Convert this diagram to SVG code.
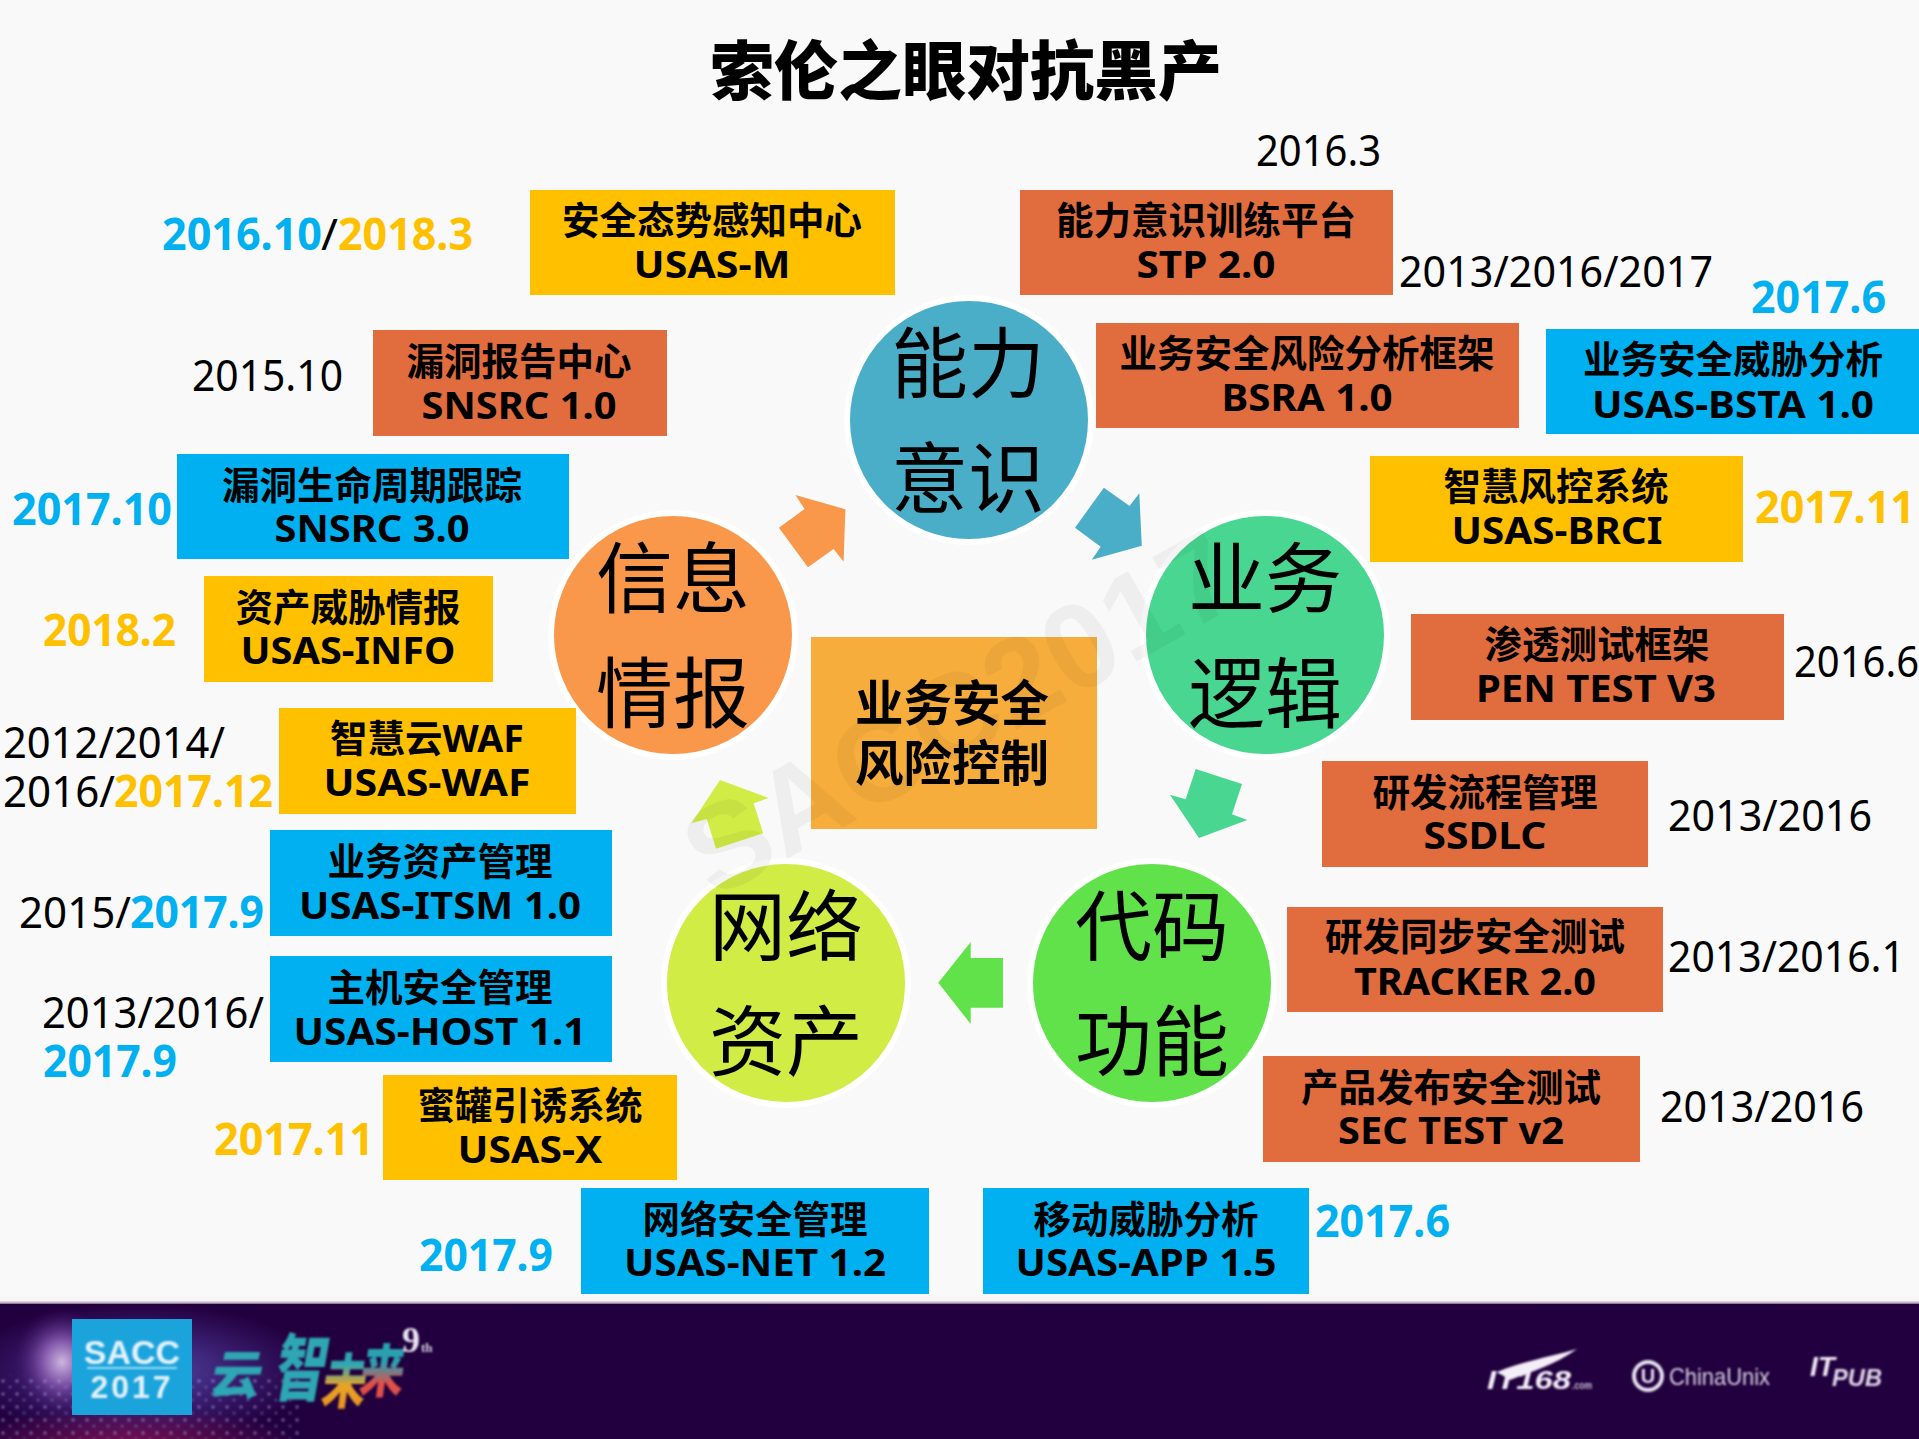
<svg xmlns="http://www.w3.org/2000/svg" width="1919" height="1439" viewBox="0 0 1919 1439">
<style>
text{font-family:"Noto Sans","Noto Sans CJK SC",sans-serif;fill:#000}
.b{font-size:37.5px;font-weight:700;text-anchor:middle}
.c{font-size:77px;text-anchor:middle;font-family:"Noto Sans CJK SC",sans-serif}
.d{font-size:44px}
.db{font-size:44px;font-weight:700}
.cb{fill:#00b0f0}
.cy{fill:#ffc000}
.y{fill:#ffc000}
.r{fill:#e16c3e}
.u{fill:#00b0f0}
.ring{stroke:#fff;stroke-width:6}
.ft{font-family:"Liberation Sans",sans-serif;font-weight:700}
.br{font-family:"Noto Sans CJK SC",sans-serif;font-weight:900}
</style>
<defs>
<radialGradient id="glow" cx="0.5" cy="0.5" r="0.5"><stop offset="0" stop-color="#cdb4e0"/><stop offset="0.4" stop-color="#7f54a8"/><stop offset="1" stop-color="#3a0a5c" stop-opacity="0"/></radialGradient>
<radialGradient id="speck" cx="0.5" cy="0.5" r="0.5"><stop offset="0" stop-color="#5c5cc0" stop-opacity="0.85"/><stop offset="1" stop-color="#5c3cb0" stop-opacity="0"/></radialGradient>
<radialGradient id="red" cx="0.5" cy="0.5" r="0.5"><stop offset="0" stop-color="#a01a5a" stop-opacity="0.7"/><stop offset="1" stop-color="#a01a5a" stop-opacity="0"/></radialGradient>
<linearGradient id="edge" x1="0" y1="0" x2="0" y2="1"><stop offset="0" stop-color="#f9f9f9"/><stop offset="0.55" stop-color="#f8f2f8"/><stop offset="0.8" stop-color="#b0a8b4"/><stop offset="1" stop-color="#2a0a44"/></linearGradient>
<linearGradient id="wei" x1="0" y1="0" x2="0" y2="1"><stop offset="0.35" stop-color="#2ea6b4"/><stop offset="0.6" stop-color="#e8a428"/><stop offset="1" stop-color="#e88a20"/></linearGradient>
<linearGradient id="lai" x1="0" y1="0" x2="0" y2="1"><stop offset="0.45" stop-color="#2aa0b0"/><stop offset="0.7" stop-color="#e0504a"/><stop offset="1" stop-color="#e05048"/></linearGradient>
<pattern id="dots" width="14" height="13" patternUnits="userSpaceOnUse"><circle cx="3" cy="3" r="1.8" fill="#a8a8ec" opacity=".5"/><circle cx="10" cy="9" r="1.5" fill="#8890e0" opacity=".45"/></pattern>
<filter id="bl2" x="-10%" y="-10%" width="120%" height="120%"><feGaussianBlur stdDeviation="0.9"/></filter>
<clipPath id="fc"><rect x="0" y="1304" width="1919" height="135"/></clipPath>
</defs>
<rect width="1919" height="1439" fill="#f9f9f9"/>
<text x="966" y="94" style="font-size:64px;font-weight:900;text-anchor:middle;font-family:'Noto Sans CJK SC',sans-serif">索伦之眼对抗黑产</text>

<g id="connectors">
<polygon fill="#f9984a" points="795.4,495 845.4,509.3 843.6,561.7 833.6,549 807.9,567.3 778.9,527.7 804.6,509"/>
<polygon fill="#4baec8" points="1103.9,487.7 1129.6,506 1139.3,493.3 1141.8,545.7 1091.8,559.7 1100.7,546.7 1075,527.7"/>
<polygon fill="#48d690" points="1195.7,769 1242,784 1232,814.3 1247.3,820 1199,838 1170,794.7 1185.7,799.3"/>
<polygon fill="#62e24a" points="1003,958 1003,1007.7 970.7,1007.7 970.7,1024 938.3,982.7 970.7,942 970.7,958"/>
<polygon fill="#d0ec45" points="720,780 768.6,798 753.6,803.3 763.2,833.3 716,848.7 706.8,819 691.4,823.3"/>
</g>

<g id="node-ability"><circle class="ring" cx="969" cy="420" r="122" fill="#4baec8"/><text class="c" x="968" y="392">能力</text><text class="c" x="968" y="507">意识</text></g>
<g id="node-logic"><circle class="ring" cx="1265" cy="635" r="122" fill="#48d690"/><text class="c" x="1265" y="607">业务</text><text class="c" x="1265" y="722">逻辑</text></g>
<g id="node-code"><circle class="ring" cx="1152" cy="983" r="122" fill="#62e24a"/><text class="c" x="1152" y="955">代码</text><text class="c" x="1152" y="1070">功能</text></g>
<g id="node-network"><circle class="ring" cx="786" cy="983" r="122" fill="#d0ec45"/><text class="c" x="786" y="955">网络</text><text class="c" x="786" y="1070">资产</text></g>
<g id="node-intel"><circle class="ring" cx="673" cy="635" r="122" fill="#f9984a"/><text class="c" x="673" y="607">信息</text><text class="c" x="673" y="722">情报</text></g>
<g id="node-center"><rect x="811" y="637" width="286" height="192" fill="#f6ad3b"/><text x="952" y="721" style="font-size:48.5px;font-weight:700;text-anchor:middle">业务安全</text><text x="952" y="781" style="font-size:48.5px;font-weight:700;text-anchor:middle">风险控制</text></g>

<g id="box-m"><rect class="y" x="530" y="190" width="365" height="105"/><text class="b" x="712" y="234">安全态势感知中心</text><text class="b" x="712" y="278" textLength="157" lengthAdjust="spacingAndGlyphs">USAS-M</text></g>
<g id="box-stp"><rect class="r" x="1020" y="190" width="373" height="105"/><text class="b" x="1206" y="234">能力意识训练平台</text><text class="b" x="1206" y="278" textLength="139" lengthAdjust="spacingAndGlyphs">STP 2.0</text></g>
<g id="box-bsra"><rect class="r" x="1096" y="323" width="423" height="105"/><text class="b" x="1307" y="367">业务安全风险分析框架</text><text class="b" x="1307" y="411" textLength="171" lengthAdjust="spacingAndGlyphs">BSRA 1.0</text></g>
<g id="box-bsta"><rect class="u" x="1546" y="329" width="373" height="105"/><text class="b" x="1733" y="373">业务安全威胁分析</text><text class="b" x="1733" y="418" textLength="282" lengthAdjust="spacingAndGlyphs">USAS-BSTA 1.0</text></g>
<g id="box-brci"><rect class="y" x="1370" y="456" width="373" height="106"/><text class="b" x="1556" y="500">智慧风控系统</text><text class="b" x="1557" y="544" textLength="211" lengthAdjust="spacingAndGlyphs">USAS-BRCI</text></g>
<g id="box-pen"><rect class="r" x="1411" y="614" width="373" height="106"/><text class="b" x="1597" y="658">渗透测试框架</text><text class="b" x="1596" y="702" textLength="240" lengthAdjust="spacingAndGlyphs">PEN TEST V3</text></g>
<g id="box-ssdlc"><rect class="r" x="1322" y="761" width="326" height="106"/><text class="b" x="1485" y="806">研发流程管理</text><text class="b" x="1485" y="849" textLength="123" lengthAdjust="spacingAndGlyphs">SSDLC</text></g>
<g id="box-tracker"><rect class="r" x="1287" y="907" width="376" height="105"/><text class="b" x="1475" y="950">研发同步安全测试</text><text class="b" x="1475" y="995" textLength="242" lengthAdjust="spacingAndGlyphs">TRACKER 2.0</text></g>
<g id="box-sec"><rect class="r" x="1263" y="1056" width="377" height="106"/><text class="b" x="1451" y="1101">产品发布安全测试</text><text class="b" x="1451" y="1144" textLength="226" lengthAdjust="spacingAndGlyphs">SEC TEST v2</text></g>
<g id="box-app"><rect class="u" x="983" y="1188" width="326" height="106"/><text class="b" x="1146" y="1233">移动威胁分析</text><text class="b" x="1146" y="1276" textLength="261" lengthAdjust="spacingAndGlyphs">USAS-APP 1.5</text></g>
<g id="box-net"><rect class="u" x="581" y="1188" width="348" height="106"/><text class="b" x="755" y="1233">网络安全管理</text><text class="b" x="755" y="1276" textLength="262" lengthAdjust="spacingAndGlyphs">USAS-NET 1.2</text></g>
<g id="box-x"><rect class="y" x="383" y="1075" width="294" height="105"/><text class="b" x="530" y="1119">蜜罐引诱系统</text><text class="b" x="530" y="1163" textLength="145" lengthAdjust="spacingAndGlyphs">USAS-X</text></g>
<g id="box-host"><rect class="u" x="270" y="956" width="342" height="106"/><text class="b" x="440" y="1001">主机安全管理</text><text class="b" x="440" y="1045" textLength="293" lengthAdjust="spacingAndGlyphs">USAS-HOST 1.1</text></g>
<g id="box-itsm"><rect class="u" x="270" y="830" width="342" height="106"/><text class="b" x="440" y="875">业务资产管理</text><text class="b" x="440" y="919" textLength="282" lengthAdjust="spacingAndGlyphs">USAS-ITSM 1.0</text></g>
<g id="box-waf"><rect class="y" x="279" y="708" width="297" height="106"/><text class="b" x="427" y="752">智慧云WAF</text><text class="b" x="427" y="796" textLength="207" lengthAdjust="spacingAndGlyphs">USAS-WAF</text></g>
<g id="box-info"><rect class="y" x="204" y="576" width="289" height="106"/><text class="b" x="348" y="621">资产威胁情报</text><text class="b" x="348" y="664" textLength="215" lengthAdjust="spacingAndGlyphs">USAS-INFO</text></g>
<g id="box-snsrc3"><rect class="u" x="177" y="454" width="392" height="105"/><text class="b" x="372" y="499">漏洞生命周期跟踪</text><text class="b" x="372" y="542" textLength="195" lengthAdjust="spacingAndGlyphs">SNSRC 3.0</text></g>
<g id="box-snsrc1"><rect class="r" x="373" y="330" width="294" height="106"/><text class="b" x="519" y="375">漏洞报告中心</text><text class="b" x="519" y="419" textLength="195" lengthAdjust="spacingAndGlyphs">SNSRC 1.0</text></g>

<g id="dates">
<text class="d" x="1256" y="166" textLength="125" lengthAdjust="spacingAndGlyphs">2016.3</text>
<text class="d" x="1399" y="287" textLength="314" lengthAdjust="spacingAndGlyphs">2013/2016/2017</text>
<text class="db cb" x="1751" y="313" textLength="135" lengthAdjust="spacingAndGlyphs">2017.6</text>
<text class="db cy" x="1755" y="523" textLength="160" lengthAdjust="spacingAndGlyphs">2017.11</text>
<text class="d" x="1794" y="677" textLength="125" lengthAdjust="spacingAndGlyphs">2016.6</text>
<text class="d" x="1668" y="831" textLength="204" lengthAdjust="spacingAndGlyphs">2013/2016</text>
<text class="d" x="1668" y="972" textLength="237" lengthAdjust="spacingAndGlyphs">2013/2016.1</text>
<text class="d" x="1660" y="1122" textLength="204" lengthAdjust="spacingAndGlyphs">2013/2016</text>
<text class="db cb" x="1315" y="1237" textLength="135" lengthAdjust="spacingAndGlyphs">2017.6</text>
<text class="db cb" x="419" y="1271" textLength="134" lengthAdjust="spacingAndGlyphs">2017.9</text>
<text class="db cy" x="214" y="1155" textLength="160" lengthAdjust="spacingAndGlyphs">2017.11</text>
<text class="d" x="42" y="1028" textLength="222" lengthAdjust="spacingAndGlyphs">2013/2016/</text>
<text class="db cb" x="43" y="1077" textLength="134" lengthAdjust="spacingAndGlyphs">2017.9</text>
<text class="d" x="19" y="928" textLength="112" lengthAdjust="spacingAndGlyphs">2015/</text><text class="db cb" x="130" y="928" textLength="134" lengthAdjust="spacingAndGlyphs">2017.9</text>
<text class="d" x="3" y="758" textLength="222" lengthAdjust="spacingAndGlyphs">2012/2014/</text>
<text class="d" x="3" y="807" textLength="112" lengthAdjust="spacingAndGlyphs">2016/</text><text class="db cy" x="114" y="807" textLength="159" lengthAdjust="spacingAndGlyphs">2017.12</text>
<text class="db cy" x="43" y="646" textLength="133" lengthAdjust="spacingAndGlyphs">2018.2</text>
<text class="db cb" x="12" y="525" textLength="160" lengthAdjust="spacingAndGlyphs">2017.10</text>
<text class="d" x="192" y="391" textLength="151" lengthAdjust="spacingAndGlyphs">2015.10</text>
<text class="db cb" x="162" y="250" textLength="160" lengthAdjust="spacingAndGlyphs">2016.10</text><text class="d" x="321" y="250" textLength="17" lengthAdjust="spacingAndGlyphs">/</text><text class="db cy" x="338" y="250" textLength="135" lengthAdjust="spacingAndGlyphs">2018.3</text>
</g>

<text transform="translate(714 900) rotate(-29.4)" x="0" y="0" style="font-family:'Liberation Sans',sans-serif;font-size:121px;font-weight:700;fill:#000;fill-opacity:.045">SACC2017</text>

<g id="footer">
<rect x="0" y="1295" width="1919" height="10" fill="url(#edge)"/>
<g clip-path="url(#fc)">
<rect x="0" y="1303" width="1919" height="136" fill="#22003f"/>
<rect x="-40" y="1303" width="360" height="136" fill="url(#speck)"/>
<ellipse cx="62" cy="1362" rx="50" ry="55" fill="url(#glow)"/>
<ellipse cx="130" cy="1445" rx="170" ry="38" fill="url(#red)"/>
<rect x="0" y="1375" width="300" height="64" fill="url(#dots)" filter="url(#bl2)"/>
</g>
<rect x="72" y="1319" width="120" height="96" fill="#1ba3dc"/>
<g filter="url(#bl2)">
<text class="ft" x="132" y="1364" style="font-size:34px;fill:#e4f2fa;text-anchor:middle">SACC</text>
<rect x="87" y="1367" width="90" height="2" fill="#9cdcf4"/>
<text class="ft" x="132" y="1398" style="font-size:32px;fill:#e4f2fa;text-anchor:middle;letter-spacing:3px">2017</text>
<text class="br" transform="translate(208 1394) skewX(-12) scale(1.1,1.15)" style="font-size:46px;fill:#2ea6b4">云</text>
<text class="br" transform="translate(272 1395) skewX(-10) scale(.95,1.35)" style="font-size:54px;fill:#2ea6b4">智</text>
<text class="br" transform="translate(320 1403) skewX(-8) scale(1,1.35)" style="font-size:44px;fill:url(#wei)">未</text>
<text class="br" transform="translate(358 1392) skewX(-8) scale(1,1.3)" style="font-size:44px;fill:url(#lai)">来</text>
<text x="402" y="1352" style="font-family:'Liberation Serif',serif;font-size:36px;font-weight:700;fill:#e8e4f0">9</text>
<text x="421" y="1352" style="font-family:'Liberation Serif',serif;font-size:13px;font-weight:700;fill:#d8d4e0">th</text>
<path d="M1497 1372C1520 1362 1545 1358 1577 1349C1555 1365 1530 1372 1510 1380Z" fill="#f4eef8"/>
<text class="ft" x="1487" y="1389" style="font-size:25px;font-style:italic;fill:#f4eef8" textLength="84" lengthAdjust="spacingAndGlyphs">IT168</text>
<text class="ft" x="1572" y="1389" style="font-size:10px;fill:#c8c0d0" textLength="20" lengthAdjust="spacingAndGlyphs">.com</text>
<circle cx="1648" cy="1376" r="14" fill="none" stroke="#e8e2ee" stroke-width="4"/>
<text class="ft" x="1648" y="1383" style="font-size:20px;fill:#e8e2ee;text-anchor:middle">U</text>
<text x="1669" y="1385" style="font-family:'Liberation Sans',sans-serif;font-size:24px;fill:#d8d0e0" textLength="101" lengthAdjust="spacingAndGlyphs">ChinaUnix</text>
<text class="ft" x="1810" y="1376" style="font-size:28px;font-style:italic;fill:#f0eaf4">IT</text>
<text class="ft" x="1832" y="1386" style="font-size:23px;font-style:italic;fill:#e0d8e8" textLength="50" lengthAdjust="spacingAndGlyphs">PUB</text>
</g>
</g>
</svg>
